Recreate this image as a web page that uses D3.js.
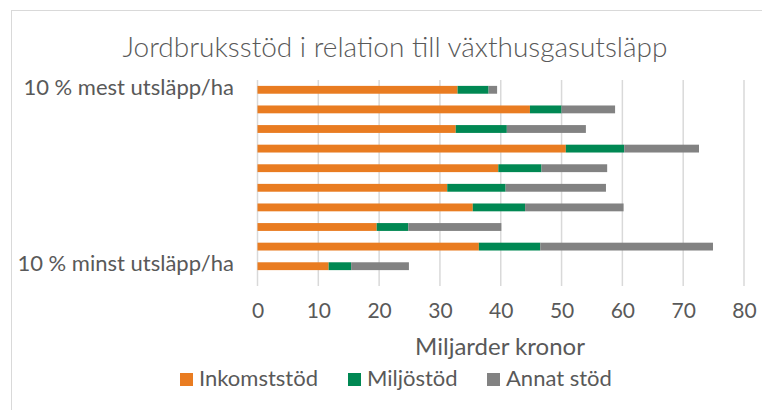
<!DOCTYPE html>
<html>
<head>
<meta charset="utf-8">
<script src="https://cdn.jsdelivr.net/npm/d3@7"></script>
<style>
  html, body { margin: 0; padding: 0; background: #fff; }
  svg { display: block; font-family: Lato, "Open Sans", sans-serif; }
</style>
</head>
<body>
<svg id="chart" width="762" height="410"></svg>
<script>
// deciles, from most to least emissions per hectare
const categories = ['d10', 'd9', 'd8', 'd7', 'd6', 'd5', 'd4', 'd3', 'd2', 'd1'];
const categoryLabels = ['10 % mest utsläpp/ha', '', '', '', '', '', '', '', '', '10 % minst utsläpp/ha'];

const series = ['Inkomststöd', 'Miljöstöd', 'Annat stöd'];
const inkomststod = [32.9, 44.8, 32.6, 50.7, 39.6, 31.2, 35.4, 19.6, 36.4, 11.7];
const miljostod   = [5.1, 5.2, 8.4, 9.6, 7.1, 9.6, 8.6, 5.2, 10.1, 3.7];
const annatStod   = [1.4, 8.8, 13.0, 12.3, 10.8, 16.5, 16.2, 15.3, 28.4, 9.5];

const xTicks = [0, 10, 20, 30, 40, 50, 60, 70, 80];

(function() {
  'use strict';

  const colors = ['#E97C21', '#008853', '#828282'],
        textColor = '#595959',
        gridColor = '#d9d9d9';

  const svg = d3.select('#chart');

  // outer chart frame (runs off the right/bottom edge)
  svg.append('rect')
    .attr('x', 11.5).attr('y', 10.5)
    .attr('width', 800).attr('height', 450)
    .attr('fill', 'none')
    .attr('stroke', '#d9d9d9');

  const x = d3.scaleLinear().domain([0, 80]).range([257.5, 744]),
        y = d3.scaleBand().domain(categories).range([80, 276])
              .paddingInner(0.6).paddingOuter(0.3);

  // title
  svg.append('text')
    .attr('x', 395).attr('y', 57)
    .attr('text-anchor', 'middle')
    .attr('fill', textColor)
    .style('font-size', '28px')
    .style('font-weight', 300)
    .text('Jordbruksstöd i relation till växthusgasutsläpp');

  // gridlines
  svg.append('g')
    .selectAll('line')
    .data(xTicks)
    .join('line')
      .attr('x1', d => x(d)).attr('x2', d => x(d))
      .attr('y1', 80).attr('y2', 286)
      .attr('stroke', gridColor)
      .attr('stroke-width', 1.5);

  // stacked bars
  const rows = categories.map((c, i) => ({
    cat: c,
    'Inkomststöd': inkomststod[i],
    'Miljöstöd': miljostod[i],
    'Annat stöd': annatStod[i]
  }));
  const stacked = d3.stack().keys(series)(rows);

  svg.append('g')
    .selectAll('g')
    .data(stacked)
    .join('g')
      .attr('fill', (d, i) => colors[i])
    .selectAll('rect')
    .data(d => d)
    .join('rect')
      .attr('x', d => x(d[0]))
      .attr('y', d => y(d.data.cat))
      .attr('width', d => x(d[1]) - x(d[0]))
      .attr('height', y.bandwidth());

  // x axis
  const xAxis = svg.append('g')
    .attr('transform', 'translate(0,303)')
    .call(d3.axisBottom(x).tickValues(xTicks).tickSize(0).tickPadding(0));
  xAxis.select('.domain').remove();
  xAxis.selectAll('text')
    .attr('fill', textColor)
    .attr('dy', '0.71em')
    .style('font-size', '21px')
    .style('font-family', 'Lato, sans-serif');

  // y axis labels
  const yAxis = svg.append('g')
    .attr('transform', 'translate(234,0)')
    .call(d3.axisLeft(y).tickFormat((d, i) => categoryLabels[i]).tickSize(0).tickPadding(0));
  yAxis.select('.domain').remove();
  yAxis.selectAll('text')
    .attr('fill', textColor)
    .attr('dy', '0.22em')
    .style('font-size', '22px')
    .style('font-family', 'Lato, sans-serif');

  // axis title
  svg.append('text')
    .attr('x', 500).attr('y', 355)
    .attr('text-anchor', 'middle')
    .attr('fill', textColor)
    .style('font-size', '24px')
    .text('Miljarder kronor');

  // legend
  const legendX = [180, 348, 487];
  const legend = svg.append('g')
    .selectAll('g')
    .data(series)
    .join('g')
      .attr('transform', (d, i) => `translate(${legendX[i]},373)`);
  legend.append('rect')
    .attr('width', 13).attr('height', 13)
    .attr('fill', (d, i) => colors[i]);
  legend.append('text')
    .attr('x', 19).attr('y', 13)
    .attr('fill', textColor)
    .style('font-size', '22px')
    .text(d => d);
})();
</script>
</body>
</html>
